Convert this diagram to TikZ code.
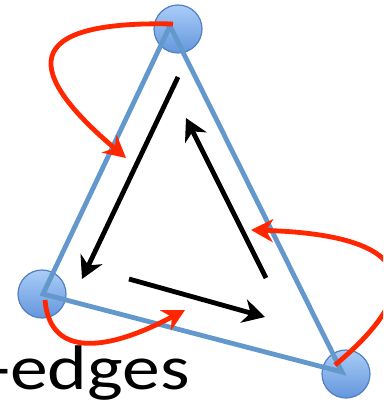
\documentclass[tikz,border=0pt]{standalone}
\usepackage{fontspec}
\setmainfont{Carlito}
\usetikzlibrary{arrows.meta}
\definecolor{edgeblue}{RGB}{98,152,204}
\definecolor{vtxtop}{RGB}{170,205,248}
\definecolor{vtxbot}{RGB}{100,150,220}
\definecolor{vtxline}{RGB}{80,128,190}
\definecolor{redarrow}{RGB}{255,38,0}
\tikzset{
  vtx/.style={circle, minimum size=48pt, inner sep=0pt, draw=vtxline, line width=1.2pt, top color=vtxtop, bottom color=vtxbot},
  tri/.style={draw=edgeblue, line width=4.8pt, line join=miter},
  blk/.style={draw=black, line width=4.8pt, -{Stealth[length=22pt, width=24pt, inset=7pt]}},
  red/.style={draw=redarrow, line width=4.8pt, -{Stealth[length=22pt, width=23pt, inset=7pt]}},
  lbl/.style={font=\fontsize{63}{70}\selectfont, inner sep=0pt, xscale=1.2}
}
\begin{document}
\begin{tikzpicture}[x=1pt, y=-1pt]
\useasboundingbox (0,0) rectangle (383,403);
\clip (0,0) rectangle (383,403);
% vertex circles
\node[vtx] (vt) at (178,29) {};
\node[vtx] (vl) at (42,294) {};
\node[vtx] (vr) at (346,374) {};
% triangle corners
\coordinate (ta) at (170,26);
\coordinate (tb) at (43,294);
\coordinate (tc) at (342,372);
\draw[tri] (ta) -- (tb) -- (tc) -- cycle;
% black arrows
\coordinate (b1s) at (178,77);
\coordinate (b1e) at (82,279);
\coordinate (b2s) at (266,278);
\coordinate (b2e) at (186,118);
\coordinate (b3s) at (129,279);
\coordinate (b3e) at (265,317);
\draw[blk] (b1s) -- (b1e);
\draw[blk] (b2s) -- (b2e);
\draw[blk] (b3s) -- (b3e);
% red arrows
\coordinate (r1s) at (173,24);
\coordinate (r1e) at (126,158);
\coordinate (r2s) at (45,300);
\coordinate (r2e) at (185,310);
\coordinate (r3s) at (335,365);
\coordinate (r3e) at (251,230);
\draw[red] (r1s) .. controls (0,20) and (40,85) .. (r1e);
\draw[red] (r2s) .. controls (50,360) and (110,350) .. (r2e);
\draw[red] (r3s) .. controls (425,290) and (420,235) .. (r3e);
% label
\node[lbl, anchor=base east] (txt) at (190,389) {-edges};
\end{tikzpicture}
\end{document}
